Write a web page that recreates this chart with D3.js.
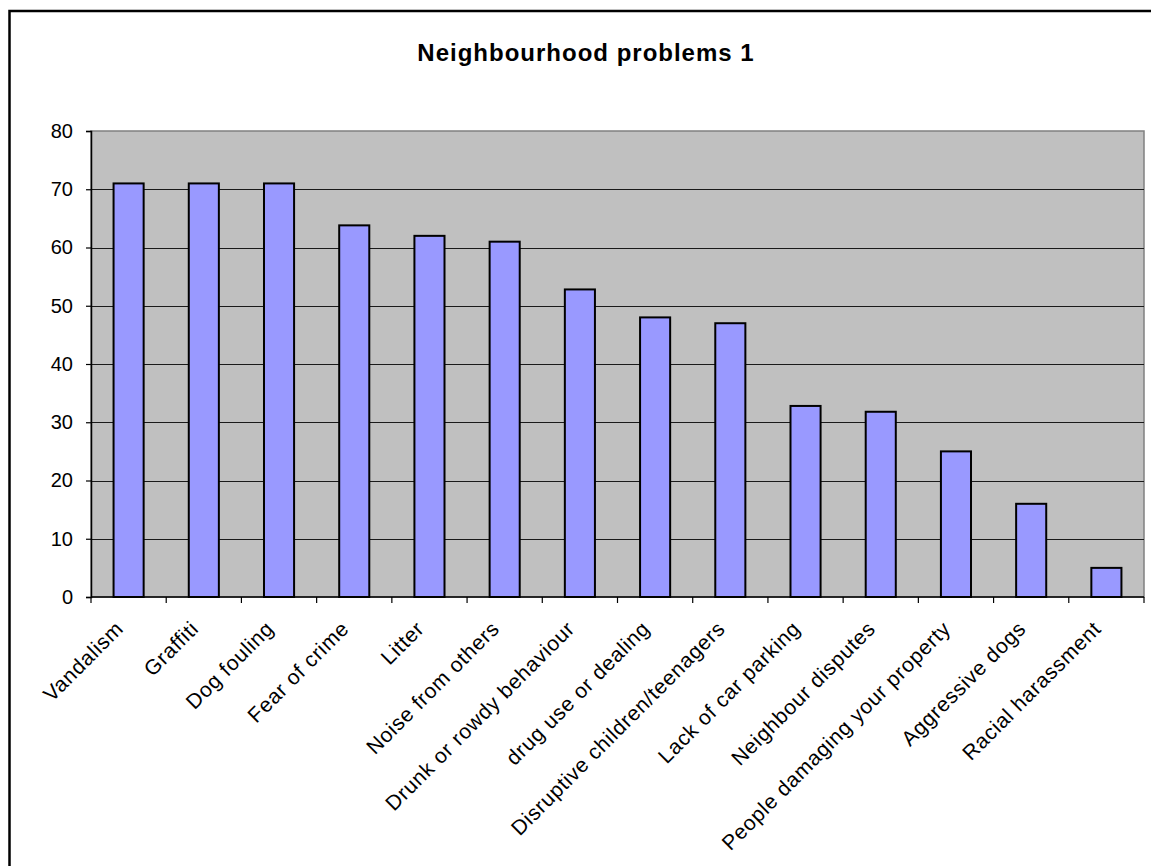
<!DOCTYPE html>
<html>
<head>
<meta charset="utf-8">
<script src="https://cdnjs.cloudflare.com/ajax/libs/d3/7.8.5/d3.min.js"></script>
<style>
  html, body { margin: 0; padding: 0; background: #fff; }
  svg { display: block; font-family: Arial, "Liberation Sans", sans-serif; }
</style>
</head>
<body>
<svg id="chart" width="1151" height="866"></svg>
<script>
// Survey results: share of respondents naming each neighbourhood problem
const categories = [
  "Vandalism", "Graffiti", "Dog fouling", "Fear of crime", "Litter",
  "Noise from others", "Drunk or rowdy behaviour", "drug use or dealing",
  "Disruptive children/teenagers", "Lack of car parking", "Neighbour disputes",
  "People damaging your property", "Aggressive dogs", "Racial harassment"
];
const values = [71, 71, 71, 63.8, 62, 61, 52.8, 48, 47, 32.8, 31.8, 25, 16, 5];
const yTicks = [0, 10, 20, 30, 40, 50, 60, 70, 80];
const title = "Neighbourhood problems 1";

const svg = d3.select("#chart");

// chart area frame
svg.append("rect")
  .attr("x", 9.5).attr("y", 11)
  .attr("width", 1160).attr("height", 870)
  .attr("fill", "#fff").attr("stroke", "#000").attr("stroke-width", 2.5);

const plot = { left: 91, right: 1144, top: 131, bottom: 597 };

const x = d3.scaleBand()
  .domain(categories)
  .range([plot.left, plot.right])
  .paddingInner(0.6)
  .paddingOuter(0.3);

const y = d3.scaleLinear()
  .domain([0, 80])
  .range([plot.bottom, plot.top]);

// plot background
svg.append("rect")
  .attr("x", plot.left).attr("y", plot.top)
  .attr("width", plot.right - plot.left).attr("height", plot.bottom - plot.top)
  .attr("fill", "#c0c0c0")
  .attr("stroke", "#808080").attr("stroke-width", 1.5);

// horizontal gridlines
svg.append("g")
  .selectAll("line")
  .data(yTicks.filter(t => t > 0 && t < 80))
  .join("line")
  .attr("x1", plot.left).attr("x2", plot.right)
  .attr("y1", d => Math.round(y(d)) + 0.5).attr("y2", d => Math.round(y(d)) + 0.5)
  .attr("stroke", "#1a1a1a").attr("stroke-width", 1.2);

// bars
svg.append("g")
  .selectAll("rect")
  .data(values)
  .join("rect")
  .attr("x", (d, i) => x(categories[i]))
  .attr("y", d => y(d))
  .attr("width", x.bandwidth())
  .attr("height", d => y(0) - y(d))
  .attr("fill", "#9999ff")
  .attr("stroke", "#000").attr("stroke-width", 2);

// y axis
const yAxis = svg.append("g")
  .attr("transform", `translate(${plot.left},0)`)
  .call(d3.axisLeft(y).tickValues(yTicks).tickSize(5).tickPadding(13).tickFormat(d3.format("d")));
yAxis.select(".domain").attr("stroke", "#000").attr("stroke-width", 1.5);
yAxis.selectAll(".tick line").attr("stroke", "#000").attr("stroke-width", 1.2);
yAxis.selectAll(".tick text")
  .attr("font-size", 20).attr("fill", "#000")
  .attr("font-family", "Arial, 'Liberation Sans', sans-serif");

// x axis: baseline plus ticks at category boundaries
const step = x.step();
const boundaries = d3.range(categories.length + 1).map(i => plot.left + i * step);
svg.append("line")
  .attr("x1", plot.left).attr("x2", plot.right)
  .attr("y1", plot.bottom).attr("y2", plot.bottom)
  .attr("stroke", "#000").attr("stroke-width", 1.5);
svg.append("g")
  .selectAll("line")
  .data(boundaries)
  .join("line")
  .attr("x1", d => d).attr("x2", d => d)
  .attr("y1", plot.bottom).attr("y2", plot.bottom + 6)
  .attr("stroke", "#000").attr("stroke-width", 1.2);

// rotated category labels
svg.append("g")
  .selectAll("text")
  .data(categories)
  .join("text")
  .attr("transform", d => `translate(${x(d) + x.bandwidth() / 2 - 4},${plot.bottom + 33}) rotate(-45)`)
  .attr("text-anchor", "end")
  .attr("font-size", 21)
  .attr("letter-spacing", 0.7)
  .attr("fill", "#000")
  .text(d => d);

// title
svg.append("text")
  .attr("x", 586).attr("y", 61)
  .attr("text-anchor", "middle")
  .attr("font-size", 24)
  .attr("font-weight", "bold")
  .attr("letter-spacing", 1.0)
  .attr("fill", "#000")
  .text(title);
</script>
</body>
</html>
